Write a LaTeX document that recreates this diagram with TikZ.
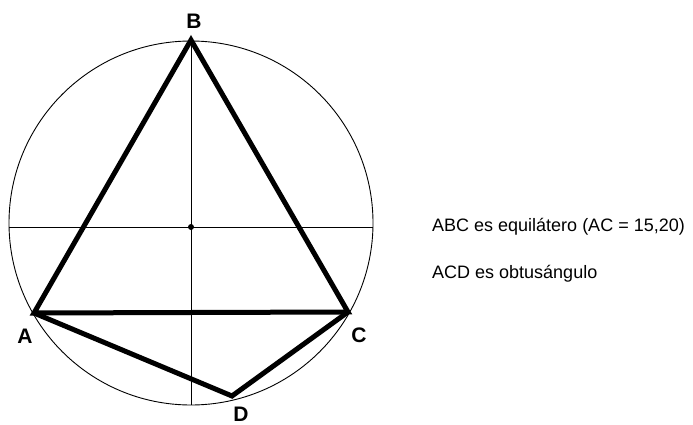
\documentclass[tikz,border=0pt]{standalone}
\usepackage{fontspec}
\setmainfont{Liberation Sans}
\usepackage{tikz}
\usetikzlibrary{positioning}

\begin{document}
\begin{tikzpicture}[
            x=1pt, y=-1pt,
            side/.style={line width=5pt, line join=miter},
            guide/.style={line width=0.9pt},
            vertexlabel/.style={font=\fontsize{21}{23}\selectfont\bfseries, inner sep=0pt},
            remark/.style={font=\fontsize{18}{20}\selectfont, anchor=base west, inner sep=0pt},
        ]

        \useasboundingbox (0,0) rectangle (693,425);

        % Circumference
        \coordinate (circ_centre) at (191,223);
        \draw[guide] (circ_centre) circle (182pt);

        % Diameters and centre
        \coordinate (centre) at (191,227);
        \coordinate (west_end) at (9,227);
        \coordinate (east_end) at (373,227);
        \coordinate (south_end) at (191,405);
        \draw[guide] (west_end) -- (east_end);
        \fill (centre) circle (3pt);

        % Vertices
        \coordinate (A) at (34,313);
        \coordinate (B) at (191,40);
        \coordinate (C) at (348,312);
        \coordinate (D) at (232,396);

        \draw[guide] (B) -- (south_end);

        % Equilateral triangle ABC
        \draw[side] (A) -- (B) -- (C) -- cycle;

        % Obtuse triangle ACD
        \draw[side] (A) -- (D) -- (C);

        % Vertex labels
        \node[vertexlabel] (label_B) at (194,21) {B};
        \node[vertexlabel] (label_A) at (25,336) {A};
        \node[vertexlabel] (label_C) at (359,335) {C};
        \node[vertexlabel] (label_D) at (241,414) {D};

        % Remarks
        \node[remark] (remark_abc) at (432,231) {ABC es equilátero (AC = 15,20)};
        \node[remark] (remark_acd) at (432,278) {ACD es obtusángulo};

\end{tikzpicture}
\end{document}
